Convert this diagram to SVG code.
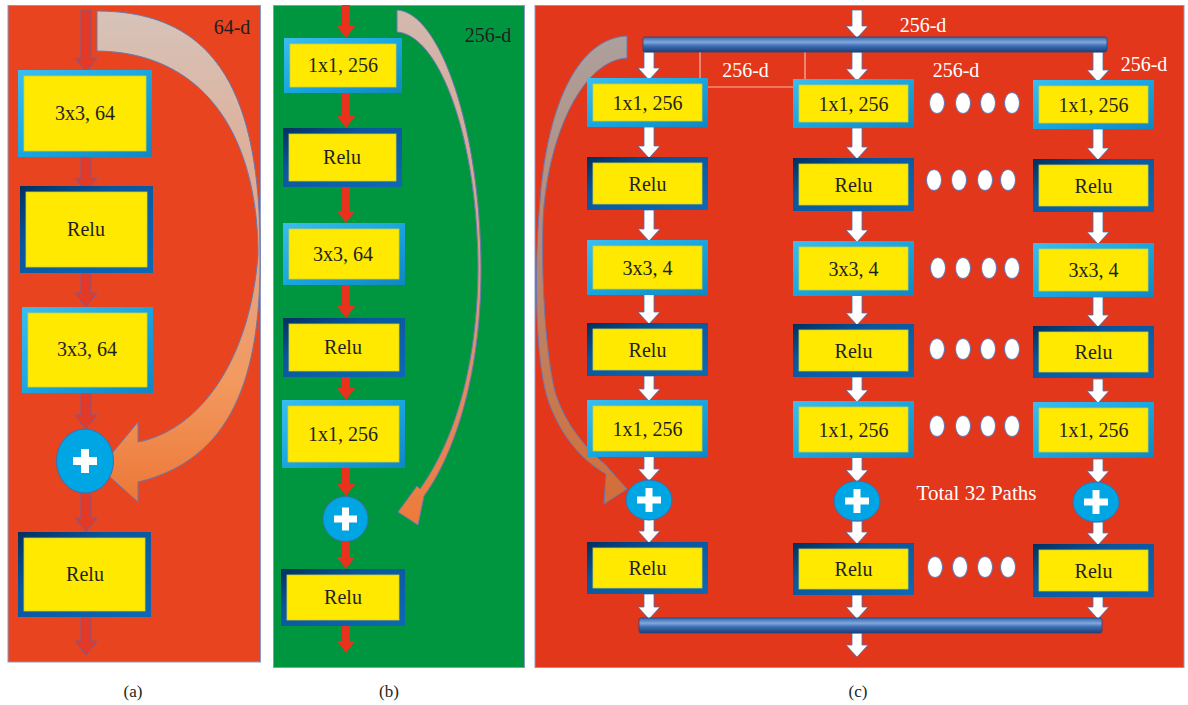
<svg xmlns="http://www.w3.org/2000/svg" width="1188" height="705" viewBox="0 0 1188 705">
<defs>
<linearGradient id="lbG" x1="0" y1="0" x2="1" y2="1"><stop offset="0" stop-color="#3BBDEE"/><stop offset="0.5" stop-color="#19A6DF"/><stop offset="1" stop-color="#1186C2"/></linearGradient>
<linearGradient id="dbG" x1="0" y1="0" x2="1" y2="1"><stop offset="0" stop-color="#02305E"/><stop offset="0.35" stop-color="#0A569C"/><stop offset="1" stop-color="#0F68B4"/></linearGradient>
<linearGradient id="barG" x1="0" y1="0" x2="0" y2="1"><stop offset="0" stop-color="#3567AE"/><stop offset="0.35" stop-color="#7FA8DC"/><stop offset="0.6" stop-color="#3C6DB3"/><stop offset="1" stop-color="#1D3F78"/></linearGradient>
<linearGradient id="curA" gradientUnits="userSpaceOnUse" x1="0" y1="11" x2="0" y2="500"><stop offset="0" stop-color="#D6C3BA"/><stop offset="0.5" stop-color="#E3A283"/><stop offset="0.75" stop-color="#F39A60"/><stop offset="1" stop-color="#EC7838"/></linearGradient>
<linearGradient id="curB" gradientUnits="userSpaceOnUse" x1="0" y1="10" x2="0" y2="525"><stop offset="0" stop-color="#D3B9AE"/><stop offset="0.5" stop-color="#D89B84"/><stop offset="1" stop-color="#EE7A3A"/></linearGradient>
<linearGradient id="curC" gradientUnits="userSpaceOnUse" x1="0" y1="36" x2="0" y2="505"><stop offset="0" stop-color="#ADA09D"/><stop offset="0.5" stop-color="#B88770"/><stop offset="1" stop-color="#D46E36"/></linearGradient>
<style>
.pan{stroke:#8A98C8;stroke-width:1}
.lb{fill:url(#lbG)}
.db{fill:url(#dbG)}
.in{fill:#FFE900;stroke:#C9CF45;stroke-width:0.8}
text{font-family:'Liberation Serif','Times New Roman','DejaVu Serif',serif;text-anchor:middle}
.t{font-size:20px;fill:#231F20}
.w{font-size:20px;fill:#FFFFFF}
.cap{font-size:17px;fill:#231F20}
.ra{fill:#E23A26;stroke:#7C5A96;stroke-width:1}
.rb{fill:#E8321E}
.wa{fill:#FFFFFF;stroke:#4F6FA8;stroke-width:0.8}
.cir{fill:#00A5E3;stroke:#3A6EB0;stroke-width:1}
.pl{fill:#FFFFFF}
.dot{fill:#FFFFFF;stroke:#5A78BC;stroke-width:1}
.bar{fill:url(#barG);stroke:#23477F;stroke-width:0.8}
.ln{stroke:#F4B8A8;stroke-width:1.2;fill:none}
.cur{stroke:#6B78AE;stroke-width:1}
</style>
</defs>
<rect width="1188" height="705" fill="#FFFFFF"/>

<!-- panels -->
<g id="panels">
<rect class="pan" x="8" y="5.5" width="252.5" height="656.5" fill="#E8441F"/>
<rect class="pan" x="273.5" y="5.5" width="251" height="662" fill="#00963F"/>
<rect class="pan" x="535" y="5.5" width="649" height="662" fill="#E3371B"/>
</g>

<!-- curved skip arrows -->
<g id="skips">
<path class="cur" fill="url(#curA)" d="M97,11 C220,11 260,100 260,250 C262,380 230,460 138,482 L138,502 L100,468 L138,422 L138,442 C200,430 250,360 258,255 C258,130 200,52 97,51 Z"/>
<path class="cur" fill="url(#curB)" d="M397,10 C440,12 481,130 481,270 C481,380 452,458 424,496 L418,525 L398,512 L417,486 L420,489 C448,450 477,380 478,270 C478,140 440,35 397,32 Z"/>
<path class="cur" fill="url(#curC)" d="M627,36 C580,38 548,100 540,200 C534,270 535,360 548,400 C562,440 585,462 606,474 L604,504 L627,489 L603,462 L607,466 C587,450 566,425 556,395 C546,360 541,280 543,220 C548,130 585,60 627,58 Z"/>
</g>

<!-- connectors -->
<g id="connectors">
<path class="ra" d="M81,10 H91 V58 H97 L86,72 L75,58 H81 Z"/>
<path class="ra" d="M81,157 H91 V178 H97 L86,192 L75,178 H81 Z"/>
<path class="ra" d="M81,273 H91 V293 H97 L86,307 L75,293 H81 Z"/>
<path class="ra" d="M81,393 H91 V415 H97 L86,429 L75,415 H81 Z"/>
<path class="ra" d="M81,493 H91 V518 H97 L86,532 L75,518 H81 Z"/>
<path class="ra" d="M81,617 H91 V641 H97 L86,655 L75,641 H81 Z"/>

<path class="rb" d="M342,5 H350 V26 H355 L346,38 L337,26 H342 Z"/>
<path class="rb" d="M342,93 H350 V116 H355 L346,128 L337,116 H342 Z"/>
<path class="rb" d="M342,187 H350 V211 H355 L346,223 L337,211 H342 Z"/>
<path class="rb" d="M342,285 H350 V306 H355 L346,318 L337,306 H342 Z"/>
<path class="rb" d="M342,377 H350 V388 H355 L346,400 L337,388 H342 Z"/>
<path class="rb" d="M342,468 H350 V484 H355 L346,496 L337,484 H342 Z"/>
<path class="rb" d="M342,542 H350 V557 H355 L346,569 L337,557 H342 Z"/>
<path class="rb" d="M342,626 H350 V641 H355 L346,653 L337,641 H342 Z"/>

<path class="wa" d="M852,10 H862 V26 H868 L857,38 L846,26 H852 Z"/>
<path class="wa" d="M852,633 H862 V645 H868 L857,657 L846,645 H852 Z"/>

<path class="wa" d="M644,52 H654 V68 H660 L649,80 L638,68 H644 Z"/>
<path class="wa" d="M644,127 H654 V146 H660 L649,158 L638,146 H644 Z"/>
<path class="wa" d="M644,210 H654 V229 H660 L649,241 L638,229 H644 Z"/>
<path class="wa" d="M644,294 H654 V312 H660 L649,324 L638,312 H644 Z"/>
<path class="wa" d="M644,376 H654 V389 H660 L649,401 L638,389 H644 Z"/>
<path class="wa" d="M644,456 H654 V469 H660 L649,481 L638,469 H644 Z"/>
<path class="wa" d="M644,519 H654 V531 H660 L649,543 L638,531 H644 Z"/>
<path class="wa" d="M644,594 H654 V607 H660 L649,619 L638,607 H644 Z"/>

<path class="wa" d="M852,52 H862 V69 H868 L857,81 L846,69 H852 Z"/>
<path class="wa" d="M852,128 H862 V147 H868 L857,159 L846,147 H852 Z"/>
<path class="wa" d="M852,211 H862 V230 H868 L857,242 L846,230 H852 Z"/>
<path class="wa" d="M852,295 H862 V313 H868 L857,325 L846,313 H852 Z"/>
<path class="wa" d="M852,377 H862 V390 H868 L857,402 L846,390 H852 Z"/>
<path class="wa" d="M852,457 H862 V470 H868 L857,482 L846,470 H852 Z"/>
<path class="wa" d="M852,521 H862 V532 H868 L857,544 L846,532 H852 Z"/>
<path class="wa" d="M852,595 H862 V607 H868 L857,619 L846,607 H852 Z"/>

<path class="wa" d="M1093,52 H1103 V70 H1109 L1098,82 L1087,70 H1093 Z"/>
<path class="wa" d="M1093,129 H1103 V148 H1109 L1098,160 L1087,148 H1093 Z"/>
<path class="wa" d="M1093,212 H1103 V232 H1109 L1098,244 L1087,232 H1093 Z"/>
<path class="wa" d="M1093,297 H1103 V315 H1109 L1098,327 L1087,315 H1093 Z"/>
<path class="wa" d="M1093,379 H1103 V391 H1109 L1098,403 L1087,391 H1093 Z"/>
<path class="wa" d="M1093,459 H1103 V471 H1109 L1098,483 L1087,471 H1093 Z"/>
<path class="wa" d="M1093,522 H1103 V533 H1109 L1098,545 L1087,533 H1093 Z"/>
<path class="wa" d="M1093,597 H1103 V607 H1109 L1098,619 L1087,607 H1093 Z"/>

<path class="ln" d="M700,52 V78 M706,87 H793 M805,52 V79"/>
</g>

<!-- bars -->
<g id="bar-top"><rect class="bar" x="643" y="37" width="464" height="15" rx="2"/></g>
<g id="bar-bottom"><rect class="bar" x="639" y="618" width="463" height="15" rx="2"/></g>

<!-- panel (a) nodes -->
<g id="a-conv1"><rect class="lb" x="18" y="70" width="134" height="87"/><rect class="in" x="24" y="76" width="122" height="75"/><text class="t" x="85" y="120" font-family="Liberation Serif, serif">3x3, 64</text></g>
<g id="a-relu1"><rect class="db" x="20" y="186" width="133" height="87"/><rect class="in" x="26" y="192" width="121" height="75"/><text class="t" x="86" y="236">Relu</text></g>
<g id="a-conv2"><rect class="lb" x="22" y="307" width="131" height="86"/><rect class="in" x="28" y="313" width="119" height="74"/><text class="t" x="87" y="356">3x3, 64</text></g>
<g id="a-add"><ellipse class="cir" cx="85" cy="461" rx="28.5" ry="32"/><rect class="pl" x="73" y="457" width="24" height="8"/><rect class="pl" x="81" y="449" width="8" height="24"/></g>
<g id="a-relu2"><rect class="db" x="18" y="532" width="133" height="85"/><rect class="in" x="24" y="538" width="121" height="73"/><text class="t" x="85" y="581">Relu</text></g>
<text class="t" x="232" y="34">64-d</text>

<!-- panel (b) nodes -->
<g id="b-conv1"><rect class="lb" x="284" y="38" width="118" height="55"/><rect class="in" x="290" y="44" width="106" height="43"/><text class="t" x="343" y="72">1x1, 256</text></g>
<g id="b-relu1"><rect class="db" x="283" y="128" width="119" height="59"/><rect class="in" x="289" y="134" width="107" height="47"/><text class="t" x="342" y="164">Relu</text></g>
<g id="b-conv2"><rect class="lb" x="283" y="223" width="122" height="62"/><rect class="in" x="289" y="229" width="110" height="50"/><text class="t" x="343" y="261">3x3, 64</text></g>
<g id="b-relu2"><rect class="db" x="283" y="318" width="122" height="59"/><rect class="in" x="289" y="324" width="110" height="47"/><text class="t" x="343" y="354">Relu</text></g>
<g id="b-conv3"><rect class="lb" x="282" y="400" width="123" height="68"/><rect class="in" x="288" y="406" width="111" height="56"/><text class="t" x="343" y="441">1x1, 256</text></g>
<g id="b-add"><circle class="cir" cx="345.5" cy="519" r="22.5"/><rect class="pl" x="334" y="515.5" width="23" height="7"/><rect class="pl" x="342" y="507.5" width="7" height="23"/></g>
<g id="b-relu3"><rect class="db" x="281" y="569" width="124" height="57"/><rect class="in" x="287" y="575" width="112" height="45"/><text class="t" x="343" y="604">Relu</text></g>
<text class="t" x="488" y="42">256-d</text>

<!-- panel (c) column 1 -->
<g id="c1-conv1"><rect class="lb" x="587" y="78" width="121" height="49"/><rect class="in" x="593" y="84" width="109" height="37"/><text class="t" x="647.5" y="109.5">1x1, 256</text></g>
<g id="c1-relu1"><rect class="db" x="587" y="157" width="121" height="53"/><rect class="in" x="593" y="163" width="109" height="41"/><text class="t" x="647.5" y="190.5">Relu</text></g>
<g id="c1-conv2"><rect class="lb" x="587" y="240" width="121" height="55"/><rect class="in" x="593" y="246" width="109" height="43"/><text class="t" x="647.5" y="274.5">3x3, 4</text></g>
<g id="c1-relu2"><rect class="db" x="587" y="323" width="121" height="53"/><rect class="in" x="593" y="329" width="109" height="41"/><text class="t" x="647.5" y="356.5">Relu</text></g>
<g id="c1-conv3"><rect class="lb" x="587" y="400" width="121" height="57"/><rect class="in" x="593" y="406" width="109" height="45"/><text class="t" x="647.5" y="435.5">1x1, 256</text></g>
<g id="c1-add"><ellipse class="cir" cx="649" cy="500" rx="23" ry="20"/><rect class="pl" x="637" y="496.5" width="24" height="7"/><rect class="pl" x="645.5" y="488" width="7" height="24"/></g>
<g id="c1-relu3"><rect class="db" x="587" y="542" width="121" height="52"/><rect class="in" x="593" y="548" width="109" height="40"/><text class="t" x="647.5" y="575">Relu</text></g>

<!-- panel (c) column 2 -->
<g id="c2-conv1"><rect class="lb" x="793" y="79" width="121" height="49"/><rect class="in" x="799" y="85" width="109" height="37"/><text class="t" x="853.5" y="110.5">1x1, 256</text></g>
<g id="c2-relu1"><rect class="db" x="793" y="158" width="121" height="53"/><rect class="in" x="799" y="164" width="109" height="41"/><text class="t" x="853.5" y="191.5">Relu</text></g>
<g id="c2-conv2"><rect class="lb" x="793" y="241" width="121" height="55"/><rect class="in" x="799" y="247" width="109" height="43"/><text class="t" x="853.5" y="275.5">3x3, 4</text></g>
<g id="c2-relu2"><rect class="db" x="793" y="324" width="121" height="53"/><rect class="in" x="799" y="330" width="109" height="41"/><text class="t" x="853.5" y="357.5">Relu</text></g>
<g id="c2-conv3"><rect class="lb" x="793" y="401" width="121" height="57"/><rect class="in" x="799" y="407" width="109" height="45"/><text class="t" x="853.5" y="436.5">1x1, 256</text></g>
<g id="c2-add"><ellipse class="cir" cx="857" cy="501" rx="23" ry="20"/><rect class="pl" x="845" y="497.5" width="24" height="7"/><rect class="pl" x="853.5" y="489" width="7" height="24"/></g>
<g id="c2-relu3"><rect class="db" x="793" y="543" width="121" height="52"/><rect class="in" x="799" y="549" width="109" height="40"/><text class="t" x="853.5" y="576">Relu</text></g>

<!-- panel (c) column 3 -->
<g id="c3-conv1"><rect class="lb" x="1033" y="80" width="121" height="49"/><rect class="in" x="1039" y="86" width="109" height="37"/><text class="t" x="1093.5" y="111.5">1x1, 256</text></g>
<g id="c3-relu1"><rect class="db" x="1033" y="159" width="121" height="53"/><rect class="in" x="1039" y="165" width="109" height="41"/><text class="t" x="1093.5" y="192.5">Relu</text></g>
<g id="c3-conv2"><rect class="lb" x="1033" y="243" width="121" height="54"/><rect class="in" x="1039" y="249" width="109" height="42"/><text class="t" x="1093.5" y="277">3x3, 4</text></g>
<g id="c3-relu2"><rect class="db" x="1033" y="326" width="121" height="52"/><rect class="in" x="1039" y="332" width="109" height="40"/><text class="t" x="1093.5" y="359">Relu</text></g>
<g id="c3-conv3"><rect class="lb" x="1033" y="402" width="121" height="56"/><rect class="in" x="1039" y="408" width="109" height="44"/><text class="t" x="1093.5" y="437">1x1, 256</text></g>
<g id="c3-add"><ellipse class="cir" cx="1096" cy="502" rx="23" ry="20"/><rect class="pl" x="1084" y="498.5" width="24" height="7"/><rect class="pl" x="1092.5" y="490" width="7" height="24"/></g>
<g id="c3-relu3"><rect class="db" x="1033" y="544" width="121" height="53"/><rect class="in" x="1039" y="550" width="109" height="41"/><text class="t" x="1093.5" y="577.5">Relu</text></g>

<!-- dots -->
<g id="dots">
<ellipse class="dot" cx="937" cy="103" rx="7.5" ry="10.5"/><ellipse class="dot" cx="963" cy="103" rx="7.5" ry="10.5"/><ellipse class="dot" cx="988" cy="103" rx="7.5" ry="10.5"/><ellipse class="dot" cx="1012" cy="103" rx="7.5" ry="10.5"/>
<ellipse class="dot" cx="934" cy="180" rx="7.5" ry="10.5"/><ellipse class="dot" cx="959" cy="180" rx="7.5" ry="10.5"/><ellipse class="dot" cx="985" cy="180" rx="7.5" ry="10.5"/><ellipse class="dot" cx="1008" cy="180" rx="7.5" ry="10.5"/>
<ellipse class="dot" cx="938" cy="268" rx="7.5" ry="10.5"/><ellipse class="dot" cx="963" cy="268" rx="7.5" ry="10.5"/><ellipse class="dot" cx="989" cy="268" rx="7.5" ry="10.5"/><ellipse class="dot" cx="1012" cy="268" rx="7.5" ry="10.5"/>
<ellipse class="dot" cx="937" cy="349" rx="7.5" ry="10.5"/><ellipse class="dot" cx="963" cy="349" rx="7.5" ry="10.5"/><ellipse class="dot" cx="988" cy="349" rx="7.5" ry="10.5"/><ellipse class="dot" cx="1012" cy="349" rx="7.5" ry="10.5"/>
<ellipse class="dot" cx="937" cy="426" rx="7.5" ry="10.5"/><ellipse class="dot" cx="963" cy="426" rx="7.5" ry="10.5"/><ellipse class="dot" cx="988" cy="426" rx="7.5" ry="10.5"/><ellipse class="dot" cx="1012" cy="426" rx="7.5" ry="10.5"/>
<ellipse class="dot" cx="935" cy="567" rx="7.5" ry="10.5"/><ellipse class="dot" cx="960" cy="567" rx="7.5" ry="10.5"/><ellipse class="dot" cx="985" cy="567" rx="7.5" ry="10.5"/><ellipse class="dot" cx="1008" cy="567" rx="7.5" ry="10.5"/>
</g>

<!-- panel (c) labels -->
<text class="w" x="923" y="32">256-d</text>
<text class="w" x="745.5" y="77">256-d</text>
<text class="w" x="956" y="77">256-d</text>
<text class="w" x="1144" y="71">256-d</text>
<text class="w" x="976.5" y="500" style="font-size:21px">Total 32 Paths</text>

<!-- captions -->
<text class="cap" x="133" y="697">(a)</text>
<text class="cap" x="389" y="697">(b)</text>
<text class="cap" x="858" y="697">(c)</text>
</svg>
